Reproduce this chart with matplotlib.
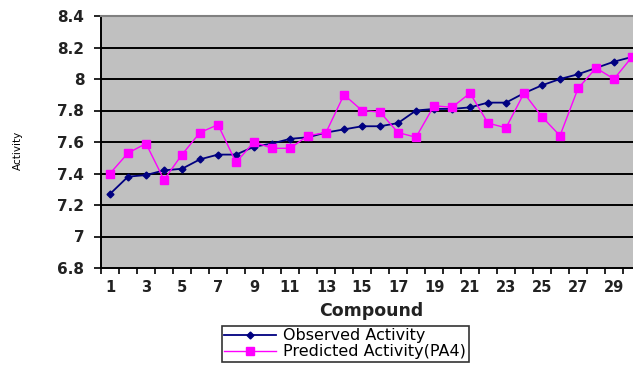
import matplotlib
matplotlib.use("Agg")
import matplotlib.pyplot as plt
import numpy as np

compounds = list(range(1, 31))
observed = [7.27, 7.38, 7.39, 7.42, 7.43, 7.49, 7.52, 7.52, 7.57, 7.59,
            7.62, 7.63, 7.66, 7.68, 7.70, 7.70, 7.72, 7.80, 7.81, 7.81,
            7.82, 7.85, 7.85, 7.91, 7.96, 8.00, 8.03, 8.07, 8.11, 8.14]
predicted = [7.40, 7.53, 7.59, 7.36, 7.52, 7.66, 7.71, 7.47, 7.60, 7.56,
             7.56, 7.64, 7.66, 7.90, 7.80, 7.79, 7.66, 7.63, 7.83, 7.82,
             7.91, 7.72, 7.69, 7.91, 7.76, 7.64, 7.94, 8.07, 8.00, 8.14]
y_ticks = [6.8, 7.0, 7.2, 7.4, 7.6, 7.8, 8.0, 8.2, 8.4]
y_labels = ["6.8", "7", "7.2", "7.4", "7.6", "7.8", "8", "8.2", "8.4"]

plt.rcParams['font.family'] = ['DejaVu Sans']
fig = plt.figure(figsize=(6.33, 3.66), dpi=100)
ax = fig.add_axes([101/633, 1-268/366, (641-101)/633, (268-16)/366])
ax.set_facecolor('#C0C0C0')

ax.plot(compounds, observed, color='#000080', marker='D', markersize=3.5,
        linewidth=1.3, label='Observed Activity', zorder=3)
ax.plot(compounds, predicted, color='#FF00FF', marker='s', markersize=6,
        linewidth=1.0, label='Predicted Activity(PA4)', zorder=4)

ax.set_xlim(0.5, 30.5)
ax.set_ylim(6.8, 8.4)
ax.set_yticks(y_ticks)
ax.set_yticklabels(y_labels, fontsize=11, fontweight='semibold', color='#222222')
for yv in y_ticks[1:-1]:
    ax.axhline(yv, color='black', linewidth=1.4, zorder=1)

ax.set_xticks(compounds[::2])
ax.set_xticklabels([str(c) for c in compounds[::2]], fontsize=10.5,
                   fontweight='semibold', color='#222222')
ax.set_xticks(np.arange(0.5, 31, 1), minor=True)
ax.tick_params(axis='x', which='major', length=0, pad=9)
ax.tick_params(axis='x', which='minor', length=4, width=1.2, direction='out')
ax.tick_params(axis='y', length=5, width=1.2, direction='out', pad=7)

ax.spines['right'].set_visible(False)
ax.spines['top'].set_color('#808080')
ax.spines['top'].set_linewidth(1.5)
ax.spines['left'].set_linewidth(1.4)
ax.spines['bottom'].set_linewidth(1.4)

ax.set_xlabel('Compound', fontsize=12.5, fontweight='bold', labelpad=5,
              color='#222222')
fig.text(18/633, 1-150/366, 'Activity', rotation=90, fontsize=7.5,
         ha='center', va='center')

leg = fig.legend(loc='upper left', bbox_to_anchor=(222/633, 1-326/366),
                 fontsize=11.5, frameon=True, fancybox=False, edgecolor='black',
                 borderpad=0.15, labelspacing=0.05, handlelength=3.2,
                 handletextpad=0.5, borderaxespad=0)
leg.get_frame().set_linewidth(1.2)

fig.savefig('out.png', dpi=100)
